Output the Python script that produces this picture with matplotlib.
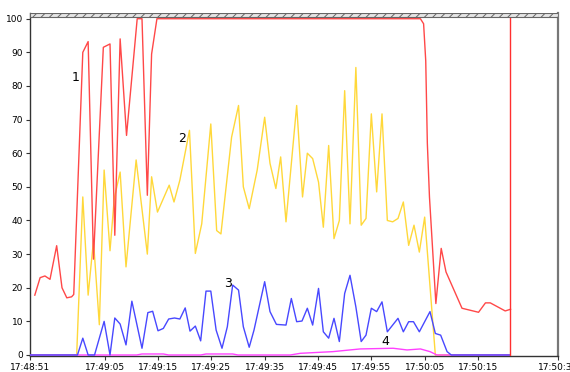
import matplotlib
matplotlib.use("Agg")
import matplotlib.pyplot as plt

# seconds after 17:48:51
tick_pos = [0, 14, 24, 34, 44, 54, 64, 74, 84, 99]
tick_labels = ["17:48:51", "17:49:05", "17:49:15", "17:49:25", "17:49:35",
               "17:49:45", "17:49:55", "17:50:05", "17:50:15", "17:50:30"]

red_t = [0.9, 1.9, 2.8, 3.75, 5, 6, 6.9, 7.8, 8.2, 9.9, 10.9, 11.9, 13.75, 15,
         15.9, 16.9, 18.1, 20.1, 21, 22, 22.8, 23.8, 73.2, 73.8, 74.2, 74.5,
         74.9, 76.1, 77.1, 78, 81, 84.1, 85.4, 86.3, 89.1, 90.1]
red_v = [17.8, 23, 23.5, 22.5, 32.5, 20, 17, 17.3, 18, 90, 93.2, 28.5, 91.5, 92.5,
         35.6, 94, 65.3, 100, 100, 47.5, 89.5, 100, 100, 98.5, 87.5, 63,
         47, 15.3, 31.7, 24.7, 13.9, 12.7, 15.5, 15.5, 13.1, 13.6]

yel_t = [0, 8.75, 9.9, 10.9, 11.9, 13, 13.9, 15, 15.8, 16.9, 18, 19.9, 22, 22.8,
         23.9, 26.1, 27, 28.1, 29.9, 31, 32.2, 33.9, 35, 35.8, 37.8, 39.1, 40,
         41.1, 42.6, 44, 45, 46.1, 47, 48, 50, 51.1, 52, 53, 54.1, 55, 56, 57,
         58, 59, 60, 61.1, 62.1, 63, 64, 65, 66, 67, 68, 69, 70, 71, 72, 73,
         74, 76, 90]
yel_v = [0, 0, 47, 17.8, 34, 9, 55, 31, 46.6, 54.4, 26.2, 58, 30, 53,
         42.5, 50.5, 45.5, 52, 66.8, 30.2, 39, 68.7, 37, 36, 64.8, 74.2, 50,
         43.5, 55, 70.7, 57, 49.5, 58.9, 39.6, 74.2, 47, 60, 58.4, 51.4, 38, 62.3, 34.6,
         40, 78.6, 39, 85.5, 38.6, 40.6, 71.7, 48.5, 71.7, 40, 39.6, 40.6, 45.5, 32.6, 38.6, 30.6,
         41, 0, 0]

blue_t = [0, 8.9, 9.9, 10.9, 12.1, 13.9, 15, 15.9, 16.9, 18, 19.1, 21, 22.1, 23,
          24, 25, 26, 27.1, 28.1, 29.1, 30, 31, 32, 33, 33.9, 34.9, 36, 37, 38,
          39.1, 40, 41.1, 42, 44, 45, 46.2, 48, 49, 50, 51, 52, 53, 54.1, 55,
          56, 57, 58, 59, 60, 61.1, 62.1, 63, 64, 65, 66, 67, 69, 70, 71, 71.9,
          73, 75, 76, 77, 78.2, 79, 90]
blue_v = [0, 0, 5, 0, 0, 10, 0, 11, 9.2, 3, 16, 2, 12.6, 13,
          7.2, 7.9, 10.7, 11, 10.7, 14, 7.1, 8.6, 4.2, 19, 19, 7.4, 2, 8.4, 20.8,
          19.3, 8.4, 2.3, 7.4, 21.8, 12.9, 9.1, 8.9, 16.8, 9.9, 10.1, 13.9, 8.9, 19.8, 6.9,
          5, 10.9, 4, 18.3, 23.7, 14.3, 4, 5.9, 13.9, 12.9, 15.8, 6.9, 10.9, 6.9, 9.9, 9.9,
          6.9, 12.9, 6.4, 5.9, 1, 0, 0]

mag_t = [0, 20, 21, 25, 26, 32, 33, 38, 39, 48.8, 50.7, 56.8, 61.9, 68.1, 70.7,
         73.2, 75, 76.3, 90]
mag_v = [0, 0, 0.3, 0.3, 0, 0, 0.3, 0.3, 0, 0, 0.5, 1, 1.8, 2, 1.5,
         1.8, 1, 0, 0]

cursor_t = 90

labels = ["1", "2", "3", "4"]
label_t = [8.6, 28.5, 37.1, 66.6]
label_v = [82.5, 64.4, 21.4, 3.9]

plt.rcParams["hatch.linewidth"] = 0.7
plt.rcParams["font.family"] = "DejaVu Sans"

fig = plt.figure(figsize=(5.7, 3.72), dpi=100, facecolor="white")
ax = fig.add_axes([30 / 570, 16 / 372, 528 / 570, 343 / 372])

ax.plot(yel_t, yel_v, color="#ffd83a", lw=1, zorder=2)
ax.plot(mag_t, mag_v, color="#ff40ff", lw=1, zorder=3)
ax.plot(blue_t, blue_v, color="#4848ff", lw=1, zorder=4)
ax.plot(red_t, red_v, color="#ff4848", lw=1, zorder=5)
ax.axvline(cursor_t, ymax=0.99, color="#ff3030", lw=1, zorder=6)

# hatched strip above 100
ax.axhspan(100.5, 101.7, facecolor="#e6e6e6", edgecolor="#666666",
           hatch="////", lw=0.8, zorder=7)

for s, x, y in zip(labels, label_t, label_v):
    ax.text(x, y, s, fontsize=9, ha="center", va="center", color="black", zorder=8)

ax.set_xlim(0, 99)
ax.set_ylim(-0.3, 101.7)
ax.set_xticks(tick_pos)
ax.set_xticklabels(tick_labels)
ax.set_yticks(range(0, 101, 10))
ax.tick_params(axis="both", labelsize=6.5, length=3, width=0.8, pad=2, color="#333333")

for side in ["left", "bottom"]:
    ax.spines[side].set_color("#333333")
    ax.spines[side].set_linewidth(1)
ax.spines["top"].set_visible(False)
ax.spines["right"].set_color("#777777")
ax.spines["right"].set_linewidth(1.6)

fig.savefig("out.png", dpi=100, facecolor="white")
